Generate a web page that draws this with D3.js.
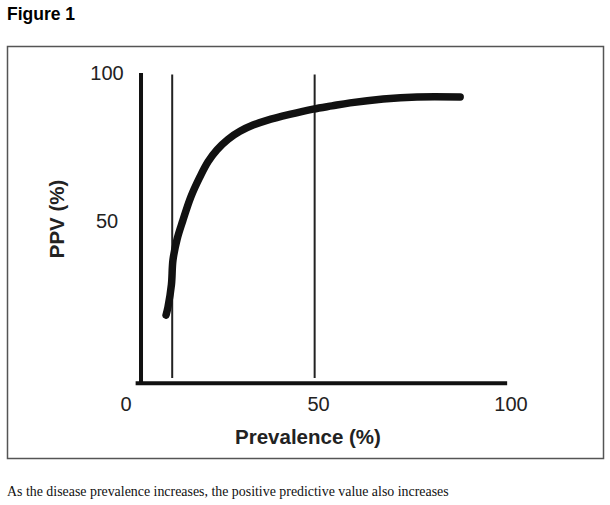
<!DOCTYPE html>
<html lang="en">
  <head>
    <meta charset="UTF-8" />
    <title>Figure 1</title>
    <script src="https://d3js.org/d3.v7.min.js"></script>
    <style>
      body {
        margin: 0;
        background: #fff;
      }
    </style>
  </head>
  <body>
    <script>
      // PPV curve (prevalence %, PPV %)
      const prevalence = [10.4, 10.9, 11.8, 12.2, 13.3, 14.8, 16.8, 19.2, 21.3, 23.6, 26.5, 29.6, 33.0, 36.6, 42.5, 48.6, 53.5, 58.2, 66.8, 75.6, 86.8];
      const ppv = [18.2, 20.9, 28.5, 36.8, 44.0, 50.3, 58.0, 64.9, 70.0, 74.0, 77.6, 80.3, 82.4, 84.0, 86.0, 87.8, 88.9, 89.9, 91.2, 91.9, 91.9];
      const markers = [12, 49];
      const xTicks = [0, 50, 100];
      const yTicks = [50, 100];

      const svg = d3.select("body").append("svg")
        .attr("width", 610)
        .attr("height", 505);

      svg.append("text")
        .attr("x", 7).attr("y", 20)
        .style("font", "bold 17.5px 'Liberation Sans', Arial, sans-serif")
        .text("Figure 1");

      svg.append("rect")
        .attr("x", 7.5).attr("y", 46.5)
        .attr("width", 596).attr("height", 412)
        .attr("fill", "none")
        .attr("stroke", "#555")
        .attr("stroke-width", 1.5);

      const x = d3.scaleLinear().domain([0, 100]).range([126, 511]);
      const y = d3.scaleLinear().domain([0, 100]).range([369, 73]);

      // axis lines
      svg.append("line")
        .attr("x1", x(3.9)).attr("x2", x(3.9))
        .attr("y1", y(100)).attr("y2", y(-5))
        .attr("stroke", "#111").attr("stroke-width", 4);
      svg.append("line")
        .attr("x1", x(2.5)).attr("x2", x(99))
        .attr("y1", y(-4.8)).attr("y2", y(-4.8))
        .attr("stroke", "#111").attr("stroke-width", 4);

      // marker lines
      svg.selectAll(".marker").data(markers).enter().append("line")
        .attr("class", "marker")
        .attr("x1", d => x(d)).attr("x2", d => x(d))
        .attr("y1", y(99.5)).attr("y2", y(-3))
        .attr("stroke", "#222").attr("stroke-width", 2);

      const tickFont = "20px 'Liberation Sans', Arial, sans-serif";
      svg.selectAll(".xt").data(xTicks).enter().append("text")
        .attr("x", d => x(d)).attr("y", 411)
        .attr("text-anchor", "middle")
        .attr("fill", "#222")
        .style("font", tickFont)
        .text(d => d);
      svg.selectAll(".yt").data(yTicks).enter().append("text")
        .attr("x", 107).attr("y", d => y(d) + 7)
        .attr("text-anchor", "middle")
        .attr("fill", "#222")
        .style("font", tickFont)
        .text(d => d);

      svg.append("text")
        .attr("x", 308).attr("y", 444)
        .attr("text-anchor", "middle")
        .attr("fill", "#222")
        .style("font", "bold 20.5px 'Liberation Sans', Arial, sans-serif")
        .text("Prevalence (%)");
      svg.append("text")
        .attr("transform", "translate(64,219) rotate(-90)")
        .attr("text-anchor", "middle")
        .attr("fill", "#222")
        .style("font", "bold 20.5px 'Liberation Sans', Arial, sans-serif")
        .text("PPV (%)");

      const line = d3.line()
        .x((d, i) => x(prevalence[i]))
        .y(d => y(d))
        .curve(d3.curveCatmullRom.alpha(0.5));
      svg.append("path")
        .datum(ppv)
        .attr("d", line)
        .attr("fill", "none")
        .attr("stroke", "#111")
        .attr("stroke-width", 7.5)
        .attr("stroke-linecap", "round");

      svg.append("text")
        .attr("x", 7).attr("y", 496)
        .style("font", "13.9px 'Liberation Serif', 'DejaVu Serif', serif")
        .attr("fill", "#111")
        .text("As the disease prevalence increases, the positive predictive value also increases");
    </script>
  </body>
</html>
